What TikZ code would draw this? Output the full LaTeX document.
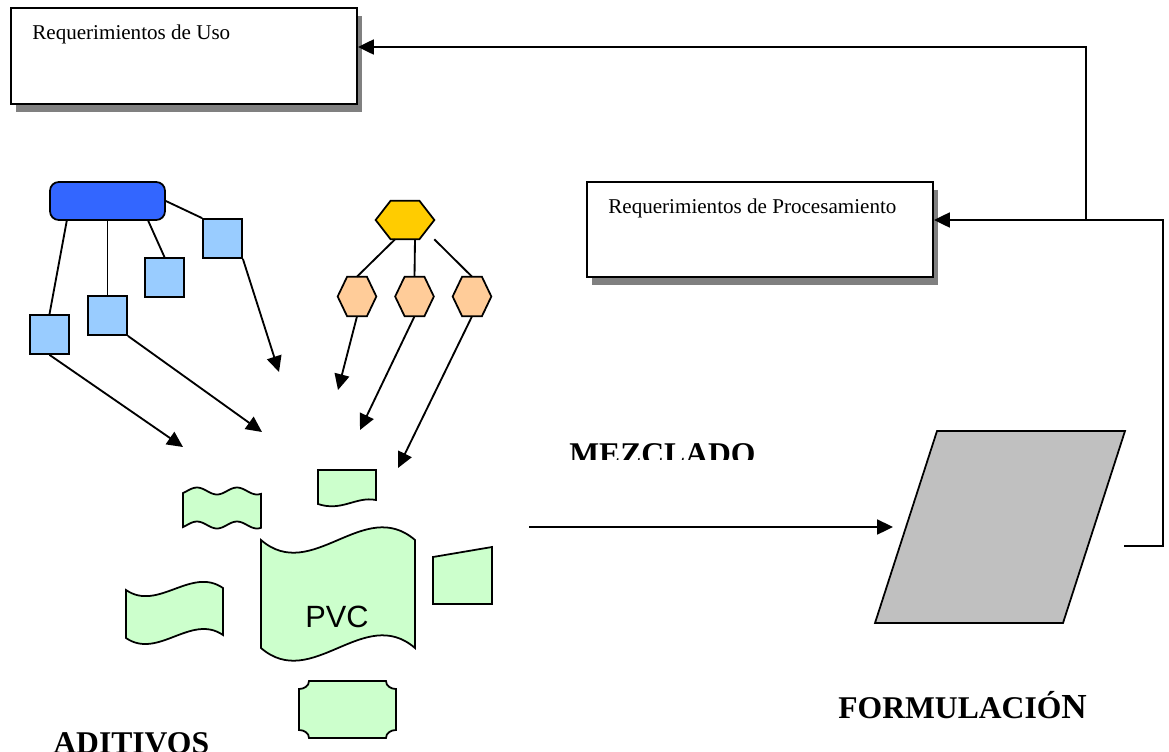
\documentclass[tikz,border=0pt]{standalone}
\usepackage{fontspec}
\setmainfont{Liberation Serif}
\newfontfamily\arialf{Liberation Sans}
\usetikzlibrary{arrows.meta,shadows}
\definecolor{grpBlue}{HTML}{3366FF}
\definecolor{sqBlue}{HTML}{99CCFF}
\definecolor{hexYel}{HTML}{FFCC00}
\definecolor{hexOra}{HTML}{FFCC99}
\definecolor{tapeGrn}{HTML}{CCFFCC}
\definecolor{formGry}{HTML}{C0C0C0}
\begin{document}
\begin{tikzpicture}[x=0.02cm,y=-0.02cm,
reqS/.style={draw=black,line width=1.1pt,fill=white,minimum width=6.92cm,minimum height=1.92cm,inner sep=0pt,drop shadow={shadow xshift=0.1cm,shadow yshift=-0.16cm,fill=black!50,opacity=1}},
reqT/.style={anchor=base west,inner sep=0pt,font=\fontsize{12}{14}\selectfont},
lblS/.style={anchor=base west,inner sep=0pt,font=\fontsize{18}{22}\selectfont\bfseries},
grpS/.style={draw=black,line width=1pt,fill=grpBlue,rounded corners=5pt,minimum width=2.3cm,minimum height=0.76cm,inner sep=0pt},
sqS/.style={draw=black,line width=1pt,fill=sqBlue,minimum size=0.78cm,inner sep=0pt},
hexS/.style={minimum width=0.76cm,minimum height=0.78cm,inner sep=0pt},
tapeS/.style={draw=black,line width=1pt,fill=tapeGrn},
formS/.style={draw=black,line width=1pt,fill=formGry},
linS/.style={line width=1.05pt},
arrS/.style={line width=1.05pt,-{Triangle[length=9pt,width=8.5pt]}}]
\useasboundingbox (0,0) rectangle (1169,751);
\clip (0,0) rectangle (1169,751);

\node[reqS] (uso) at (184,56) {};
\node[reqT] (usoT) at (32,39) {Requerimientos de Uso};
\node[reqS,minimum height=1.9cm] (proc) at (760,229.5) {};
\node[reqT] (procT) at (608,213) {Requerimientos de Procesamiento};

\coordinate (j1) at (1086,47);
\coordinate (j2) at (1086,220);
\coordinate (r1) at (1163,220);
\coordinate (r2) at (1163,546);
\coordinate (r3) at (1124,546);
\draw[linS] (r3) -- (r2) -- (r1) -- (j2);
\draw[arrS] (j2) -- (proc.east |- j2);
\draw[arrS] (j2) -- (j1) -- (uso.east |- j1);

\node[grpS] (grp) at (107.5,201) {};
\node[sqS] (sq1) at (49.5,334.5) {};
\node[sqS] (sq2) at (107.5,315.5) {};
\node[sqS] (sq3) at (164.5,277.5) {};
\node[sqS] (sq4) at (222.5,238.5) {};
\draw[linS] (grp.206) -- (sq1.north);
\draw[linS] (grp.south) -- (sq2.north);
\draw[linS] (grp.-26) -- (sq3.north);
\draw[linS] (grp.east) -- (sq4.north west);
\coordinate (a1) at (183,447);
\coordinate (a2) at (262,432);
\coordinate (a3) at (279,372);
\draw[arrS] (sq1.south) -- (a1);
\draw[arrS] (sq2.south east) -- (a2);
\draw[arrS] (sq4.south east) -- (a3);

\node[hexS,minimum width=1.16cm,minimum height=0.76cm] (hY) at (405,220) {};
\node[hexS] (h1) at (357,296.5) {};
\node[hexS] (h2) at (414.5,296.5) {};
\node[hexS] (h3) at (472,296.5) {};
\foreach \h/\c/\d in {hY/hexYel/0.3cm,h1/hexOra/0.19cm,h2/hexOra/0.19cm,h3/hexOra/0.19cm}
  \filldraw[draw=black,line width=1pt,fill=\c] (\h.west) -- ([xshift=\d]\h.north west) -- ([xshift=-\d]\h.north east) -- (\h.east) -- ([xshift=-\d]\h.south east) -- ([xshift=\d]\h.south west) -- cycle;
\draw[linS] ([xshift=-0.2cm]hY.south) -- (h1.north);
\draw[linS] ([xshift=0.2cm]hY.south) -- (h2.north);
\draw[linS] (hY.south east) -- (h3.north);
\coordinate (b1) at (338,390);
\coordinate (b2) at (360,430);
\coordinate (b3) at (398,468);
\draw[arrS] (h1.south) -- (b1);
\draw[arrS] (h2.south) -- (b2);
\draw[arrS] (h3.south) -- (b3);

\filldraw[tapeS] plot[domain=183:261,samples=40] (\x,{491-3.5*sin(9*(\x-187))}) -- plot[domain=261:183,samples=40] (\x,{525-3.5*sin(9*(\x-187))}) -- cycle;
\filldraw[tapeS] (318,470) -- (376,470) -- (376,500) .. controls (356,496) and (342,512) .. (318,504) -- cycle;
\filldraw[tapeS] (261,540) .. controls (312,584) and (364,496) .. (415,540) -- (415,648) .. controls (364,604) and (312,692) .. (261,648) -- cycle;
\node[anchor=base west,inner sep=0pt,font=\arialf\fontsize{17.5}{20}\selectfont] (pvc) at (305,627) {PVC};
\filldraw[tapeS] (433,557) -- (492,547) -- (492,604) -- (433,604) -- cycle;
\filldraw[tapeS] (126,590) .. controls (158,612) and (191,566) .. (223,588) -- (223,635) .. controls (191,613) and (158,660) .. (126,638) -- cycle;
\filldraw[tapeS] (309,681) -- (386,681) .. controls (386,686) and (391,689) .. (396,689) -- (396,730) .. controls (391,730) and (386,733) .. (386,738) -- (309,738) .. controls (309,733) and (304,730) .. (299,730) -- (299,689) .. controls (304,689) and (309,686) .. (309,681) -- cycle;

\filldraw[formS] (937,431) -- (1125,431) -- (1063,623) -- (875,623) -- cycle;
\coordinate (mezOut) at (529,527);
\coordinate (mezIn) at (893,527);
\draw[arrS] (mezOut) -- (mezIn);

\begin{scope}
\clip (560,430) rectangle (780,459);
\node[lblS] (mez) at (569,464) {MEZCLADO};
\end{scope}
\node[lblS] (form) at (838,718) {FORMULACIÓ{\fontsize{20}{24}\selectfont N}};
\node[lblS] (adit) at (53,753) {ADITIVOS};
\end{tikzpicture}
\end{document}
